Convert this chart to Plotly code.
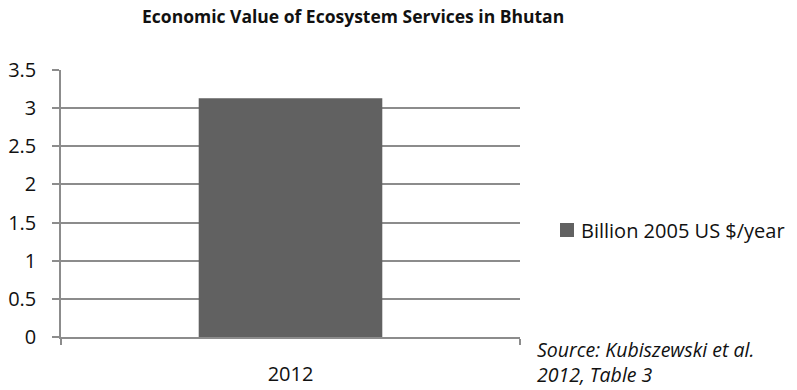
import plotly.graph_objects as go

# Economic value of ecosystem services in Bhutan
years = ["2012"]
value_billion_usd = [3.13]
series_name = "Billion 2005 US $/year"
y_ticks = [0, 0.5, 1, 1.5, 2, 2.5, 3, 3.5]
y_tick_labels = ["0", "0.5", "1", "1.5", "2", "2.5", "3", "3.5"]

FONT = "Open Sans, Noto Sans, sans-serif"
GRID = "#8c8c8c"
BAR = "#616161"
TEXT = "#111111"

W, H = 797, 390
L, R, T, B = 61, 277, 70, 53
PW, PH = W - L - R, H - T - B


def px_x(x):
    return (x - L) / PW


def px_y(y):
    return (H - B - y) / PH


fig = go.Figure()
fig.add_trace(go.Bar(
    x=years, y=value_billion_usd, name=series_name,
    marker=dict(color=BAR, line=dict(width=0)),
    showlegend=False,
))

fig.update_layout(
    width=W, height=H,
    margin=dict(l=L, r=R, t=T, b=B, pad=0, autoexpand=False),
    paper_bgcolor="white", plot_bgcolor="white",
    font=dict(family=FONT, size=20, color=TEXT),
    bargap=0.6,
    showlegend=False,
    xaxis=dict(
        type="category", showgrid=False, automargin=False,
        showline=True, linecolor=GRID, linewidth=1.5,
        ticks="outside", tickson="boundaries", ticklen=6,
        tickcolor=GRID, tickwidth=1.5,
        ticklabelstandoff=18,
        tickfont=dict(family=FONT, size=20, color=TEXT),
        fixedrange=True,
    ),
    yaxis=dict(
        range=[0, 3.5], tickmode="array", automargin=False,
        tickvals=y_ticks, ticktext=y_tick_labels,
        showgrid=True, gridcolor=GRID, gridwidth=1.5,
        showline=True, linecolor=GRID, linewidth=1.5,
        ticks="outside", ticklen=7, tickcolor=GRID, tickwidth=1.5,
        ticklabelstandoff=12,
        tickfont=dict(family=FONT, size=20, color=TEXT),
        zeroline=False, fixedrange=True,
    ),
    shapes=[
        # legend swatch for the bar series
        dict(
            type="rect", xref="paper", yref="paper",
            x0=px_x(560), x1=px_x(574), y0=px_y(237), y1=px_y(223),
            fillcolor=BAR, line=dict(width=0),
        ),
    ],
    annotations=[
        dict(
            text="<b>Economic Value of Ecosystem Services in Bhutan</b>",
            xref="paper", yref="paper",
            x=px_x(353), y=px_y(16),
            xanchor="center", yanchor="middle", showarrow=False,
            font=dict(family=FONT, size=17.5, color=TEXT),
        ),
        dict(
            text=series_name,
            xref="paper", yref="paper",
            x=px_x(579), y=px_y(231),
            xanchor="left", yanchor="middle", showarrow=False,
            font=dict(family=FONT, size=20, color=TEXT),
        ),
        dict(
            text="<i>Source: Kubiszewski et al.<br>2012, Table 3</i>",
            xref="paper", yref="paper",
            x=px_x(535), y=px_y(362),
            xanchor="left", yanchor="middle", align="left", showarrow=False,
            font=dict(family=FONT, size=19.5, color=TEXT),
        ),
    ],
)

fig.write_html("out.html")
